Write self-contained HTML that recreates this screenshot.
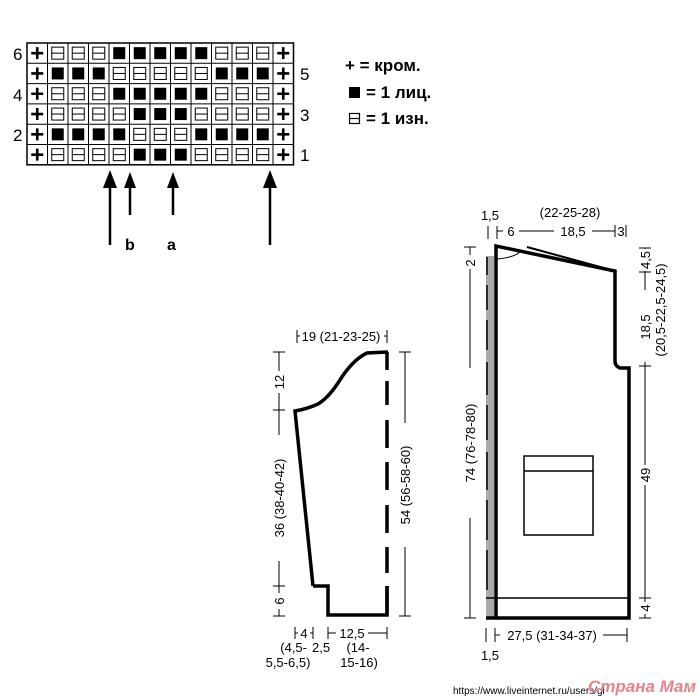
<!DOCTYPE html>
<html><head><meta charset="utf-8"><style>
html,body{margin:0;padding:0;background:#fff;width:700px;height:700px;overflow:hidden}
svg{display:block}
text{font-family:"Liberation Sans",sans-serif;fill:#000}
</style></head><body>
<svg width="700" height="700" viewBox="0 0 700 700" xmlns="http://www.w3.org/2000/svg">
<defs>
<g id="P"><path d="M-6,0H6M0,-6V6" stroke="#000" stroke-width="2.6"/></g>
<g id="B"><rect x="-6" y="-6" width="12" height="12" fill="#000"/></g>
<g id="E"><rect x="-6" y="-6" width="12" height="12" fill="none" stroke="#000" stroke-width="1"/><path d="M-6,0H6" stroke="#000" stroke-width="1"/></g>
</defs>
<g stroke="#000" stroke-width="1" fill="none">
<rect x="27" y="43" width="266.5" height="121.8" stroke-width="1.5"/>
<path d="M47.5,43V164.8M68,43V164.8M88.5,43V164.8M109,43V164.8M129.5,43V164.8M150,43V164.8M170.5,43V164.8M191,43V164.8M211.5,43V164.8M232,43V164.8M252.5,43V164.8M273,43V164.8"/>
<path d="M27,63.3H293.5M27,83.6H293.5M27,103.9H293.5M27,124.2H293.5M27,144.5H293.5"/>
</g>
<g>
<use href="#P" x="37.25" y="53.15"/><use href="#E" x="57.75" y="53.15"/><use href="#E" x="78.25" y="53.15"/><use href="#E" x="98.75" y="53.15"/><use href="#B" x="119.25" y="53.15"/><use href="#B" x="139.75" y="53.15"/><use href="#B" x="160.25" y="53.15"/><use href="#B" x="180.75" y="53.15"/><use href="#B" x="201.25" y="53.15"/><use href="#E" x="221.75" y="53.15"/><use href="#E" x="242.25" y="53.15"/><use href="#E" x="262.75" y="53.15"/><use href="#P" x="283.25" y="53.15"/>
<use href="#P" x="37.25" y="73.45"/><use href="#B" x="57.75" y="73.45"/><use href="#B" x="78.25" y="73.45"/><use href="#B" x="98.75" y="73.45"/><use href="#E" x="119.25" y="73.45"/><use href="#E" x="139.75" y="73.45"/><use href="#E" x="160.25" y="73.45"/><use href="#E" x="180.75" y="73.45"/><use href="#E" x="201.25" y="73.45"/><use href="#B" x="221.75" y="73.45"/><use href="#B" x="242.25" y="73.45"/><use href="#B" x="262.75" y="73.45"/><use href="#P" x="283.25" y="73.45"/>
<use href="#P" x="37.25" y="93.75"/><use href="#E" x="57.75" y="93.75"/><use href="#E" x="78.25" y="93.75"/><use href="#E" x="98.75" y="93.75"/><use href="#B" x="119.25" y="93.75"/><use href="#B" x="139.75" y="93.75"/><use href="#B" x="160.25" y="93.75"/><use href="#B" x="180.75" y="93.75"/><use href="#B" x="201.25" y="93.75"/><use href="#E" x="221.75" y="93.75"/><use href="#E" x="242.25" y="93.75"/><use href="#E" x="262.75" y="93.75"/><use href="#P" x="283.25" y="93.75"/>
<use href="#P" x="37.25" y="114.05"/><use href="#E" x="57.75" y="114.05"/><use href="#E" x="78.25" y="114.05"/><use href="#E" x="98.75" y="114.05"/><use href="#E" x="119.25" y="114.05"/><use href="#B" x="139.75" y="114.05"/><use href="#B" x="160.25" y="114.05"/><use href="#B" x="180.75" y="114.05"/><use href="#E" x="201.25" y="114.05"/><use href="#E" x="221.75" y="114.05"/><use href="#E" x="242.25" y="114.05"/><use href="#E" x="262.75" y="114.05"/><use href="#P" x="283.25" y="114.05"/>
<use href="#P" x="37.25" y="134.35"/><use href="#B" x="57.75" y="134.35"/><use href="#B" x="78.25" y="134.35"/><use href="#B" x="98.75" y="134.35"/><use href="#B" x="119.25" y="134.35"/><use href="#E" x="139.75" y="134.35"/><use href="#E" x="160.25" y="134.35"/><use href="#E" x="180.75" y="134.35"/><use href="#B" x="201.25" y="134.35"/><use href="#B" x="221.75" y="134.35"/><use href="#B" x="242.25" y="134.35"/><use href="#B" x="262.75" y="134.35"/><use href="#P" x="283.25" y="134.35"/>
<use href="#P" x="37.25" y="154.65"/><use href="#E" x="57.75" y="154.65"/><use href="#E" x="78.25" y="154.65"/><use href="#E" x="98.75" y="154.65"/><use href="#E" x="119.25" y="154.65"/><use href="#B" x="139.75" y="154.65"/><use href="#B" x="160.25" y="154.65"/><use href="#B" x="180.75" y="154.65"/><use href="#E" x="201.25" y="154.65"/><use href="#E" x="221.75" y="154.65"/><use href="#E" x="242.25" y="154.65"/><use href="#E" x="262.75" y="154.65"/><use href="#P" x="283.25" y="154.65"/>
</g>
<g font-size="17">
<text x="13" y="60">6</text><text x="13" y="101">4</text><text x="13" y="141">2</text>
<text x="300" y="80">5</text><text x="300" y="121">3</text><text x="300" y="161">1</text>
</g>
<g stroke="#000" stroke-width="2.5" fill="#000">
<path d="M110,245V185" /><path d="M103,188L110,170L117,188Z" stroke="none"/>
<path d="M130,215V185" /><path d="M124,188L130,172L136,188Z" stroke="none"/>
<path d="M173,215V185" /><path d="M167,188L173,172L179,188Z" stroke="none"/>
<path d="M270,245V185" /><path d="M263,188L270,170L277,188Z" stroke="none"/>
</g>
<text x="125" y="250" font-size="16" font-weight="bold">b</text>
<text x="167" y="250" font-size="16" font-weight="bold">a</text>
<g font-size="17" font-weight="bold">
<text x="345" y="71">+ = кром.</text>
<text x="366" y="98">= 1 лиц.</text>
<text x="366" y="124">= 1 изн.</text>
</g>
<rect x="349" y="87" width="11" height="11" fill="#000"/>
<rect x="349.5" y="113.5" width="10" height="10" fill="none" stroke="#000" stroke-width="1.2"/><path d="M349.5,118.5H359.5" stroke="#000" stroke-width="1.2"/>

<!-- sleeve -->
<g fill="none" stroke="#000" stroke-width="3.5">
<path d="M313,586L295,411Q307,409 318,404Q328,398 338,383Q352,360 367,353L388,352"/>
<path d="M313,586H328V615H387V586"/>
<path d="M387,352V370M387,381V405M387,420V448M387,462V490M387,505V533M387,547V573M387,586V615" />
</g>
<g stroke="#000" stroke-width="1" fill="none">
<path d="M279,352V616M273,352H285M273,410H285M273,586H285M273,616H285"/>
<path d="M405,352V616M399,352H411M399,616H411"/>
<path d="M297,330V343M387,330V343M297,336H300M384,336H387"/>
<path d="M295,627V639M313,627V639M295,633H298M310,633H313"/>
<path d="M328,627V639M387,627V639M328,633H336M368,633H387"/>
</g>
<g font-size="13">
<rect x="271" y="371" width="16" height="22" fill="#fff"/>
<text transform="translate(284,382) rotate(-90)" text-anchor="middle">12</text>
<rect x="271" y="435" width="16" height="126" fill="#fff"/>
<text transform="translate(284,498) rotate(-90)" text-anchor="middle">36 (38-40-42)</text>
<rect x="271" y="593" width="16" height="16" fill="#fff"/>
<text transform="translate(284,601) rotate(-90)" text-anchor="middle">6</text>
<rect x="397" y="423" width="16" height="124" fill="#fff"/>
<text transform="translate(410,485) rotate(-90)" text-anchor="middle">54 (56-58-60)</text>
<text x="341" y="341" text-anchor="middle">19 (21-23-25)</text>
<text x="304" y="638" text-anchor="middle">4</text>
<text x="352" y="638" text-anchor="middle">12,5</text>
<text x="312" y="652" text-anchor="start">2,5</text>
<text x="307" y="652" text-anchor="end">(4,5-</text>
<text x="288" y="667" text-anchor="middle">5,5-6,5)</text>
<text x="358" y="652" text-anchor="middle">(14-</text>
<text x="359" y="667" text-anchor="middle">15-16)</text>
</g>

<!-- front -->
<rect x="486" y="256" width="8" height="362" fill="#aaa"/>
<g fill="none" stroke="#000">
<path d="M487,257V275M487,285V310M487,320V350M487,362V395M487,405V440M487,452V490M487,500V540M487,550V590" stroke-width="1.5"/>
<path d="M496,618V246L615,271V361Q615,366 620,368L629,368V618H486" stroke-width="3.5"/>
<path d="M527,247L615,271" stroke-width="2"/>
<path d="M496,259Q515,258 522,250" stroke-width="1"/>
<path d="M486,598H628" stroke-width="1.5"/>
<path d="M524,456H593V535H524Z M524,471H593" stroke-width="1.5"/>
</g>
<g stroke="#000" stroke-width="1" fill="none">
<path d="M470,247V618M464,247H476M464,257H476M464,618H476"/>
<path d="M488,239V226M497,239V226M497,231H503M519,231H554M592,231H615M615,225V237M626,225V237"/>
<path d="M645,248V618M639,248H651M639,272H651M639,366H651M639,598H651M639,618H651"/>
<path d="M486,628V642M495,628V642M495,635H500M603,635H627M627,628V642"/>
</g>
<g font-size="13">
<text x="490" y="220" text-anchor="middle">1,5</text>
<text x="570" y="217" text-anchor="middle">(22-25-28)</text>
<text x="511" y="236" text-anchor="middle">6</text>
<text x="573" y="236" text-anchor="middle">18,5</text>
<text x="621" y="236" text-anchor="middle">3</text>
<rect x="462" y="255" width="16" height="14" fill="#fff"/>
<text transform="translate(475,263) rotate(-90)" text-anchor="middle">2</text>
<rect x="462" y="368" width="16" height="150" fill="#fff"/>
<text transform="translate(475,443) rotate(-90)" text-anchor="middle">74 (76-78-80)</text>
<rect x="637" y="249" width="16" height="22" fill="#fff"/>
<text transform="translate(650,260) rotate(-90)" text-anchor="middle">4,5</text>
<rect x="637" y="290" width="30" height="72" fill="#fff"/>
<text transform="translate(650,327) rotate(-90)" text-anchor="middle">18,5</text>
<text transform="translate(665,310) rotate(-90)" text-anchor="middle">(20,5-22,5-24,5)</text>
<rect x="637" y="465" width="16" height="20" fill="#fff"/>
<text transform="translate(650,475) rotate(-90)" text-anchor="middle">49</text>
<rect x="637" y="602" width="16" height="12" fill="#fff"/>
<text transform="translate(650,608) rotate(-90)" text-anchor="middle">4</text>
<text x="552" y="640" text-anchor="middle">27,5 (31-34-37)</text>
<text x="490" y="660" text-anchor="middle">1,5</text>
</g>
<text x="453" y="694" font-size="10" font-family="Liberation Mono,monospace">https://www.liveinternet.ru/users/gl</text>
<text x="588" y="692" font-size="17" font-style="italic" font-family="Liberation Serif,serif" style="fill:#e8828f;font-weight:bold">Страна Мам</text>
</svg>
</body></html>
